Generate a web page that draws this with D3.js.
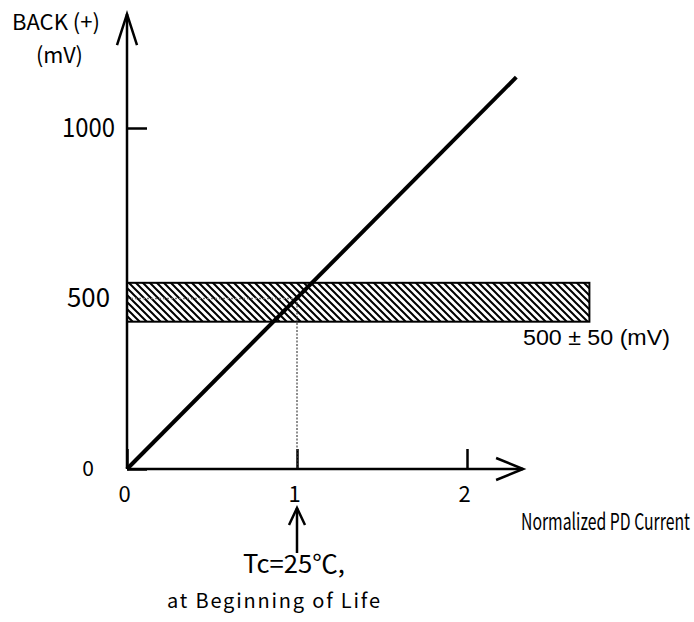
<!DOCTYPE html>
<html>
<head>
<meta charset="utf-8">
<script src="https://cdn.jsdelivr.net/npm/d3@7"></script>
<style>
  body { margin: 0; background: #fff; }
  .lbl { font-family: "Noto Sans CJK JP", sans-serif; fill: #000; }
</style>
</head>
<body>
<div id="chart"></div>
<script>
// values
var xTicks = [0, 1, 2];
var yTicks = [0, 500, 1000];
var lineX = [0, 2.29];          // normalized PD current
var lineY = [0, 1149];          // BACK(+) mV
var bandRange = [432, 546];     // 500 +/- 50 (mV) band as drawn
var bandEndX = 2.72;
var nominal = {x: 1, y: 500};
var axisMaxX = 2.33;
var axisMaxY = 1334;

var svgWidth = 694, svgHeight = 622;
var svg = d3.select("#chart").append("svg").attr("width", svgWidth).attr("height", svgHeight);

var x = d3.scaleLinear().domain([0, 2]).range([127, 467]);
var y = d3.scaleLinear().domain([0, 1000]).range([469, 128]);

// text squeezed/stretched horizontally to a given width (keeps glyph height)
function fitText(px, py, size, str, w, family) {
  var t = svg.append("text").attr("class", "lbl").attr("font-size", size).text(str);
  if (family) t.style("font-family", family);
  var n = t.node().getComputedTextLength();
  t.attr("transform", `translate(${px},${py}) scale(${w / n},1)`);
  return t;
}

// hatch pattern for the tolerance band
var defs = svg.append("defs");
var pat = defs.append("pattern").attr("id", "hatch")
  .attr("patternUnits", "userSpaceOnUse").attr("width", 7).attr("height", 7);
pat.append("rect").attr("width", 7).attr("height", 7).attr("fill", "#fff");
pat.append("path").attr("d", "M0,0L7,7M-1,6L1,8M6,-1L8,1")
  .attr("stroke", "#000").attr("stroke-width", 2);

// axes (ticks + labels)
var xAxis = d3.axisBottom(x).tickValues(xTicks).tickSize(-20).tickPadding(17).tickFormat(d3.format("d"));
var gx = svg.append("g").attr("transform", `translate(0,${y(0)})`).call(xAxis);
gx.select(".domain").remove();
gx.selectAll(".tick line").attr("stroke-width", 2.5).attr("stroke", "#000");
gx.selectAll(".tick text").attr("class", "lbl").attr("font-size", 22).attr("dx", -3);

var yAxis = d3.axisLeft(y).tickValues(yTicks).tickSize(-20).tickPadding(12).tickFormat(d3.format("d"));
var gy = svg.append("g").attr("transform", `translate(${x(0)},0)`).call(yAxis);
gy.select(".domain").remove();
gy.selectAll(".tick line").attr("stroke-width", 2.5).attr("stroke", "#000");
gy.selectAll(".tick text").attr("class", "lbl")
  .attr("font-size", d => d === 0 ? 21 : 26)
  .attr("dx", d => d === 0 ? -21 : d === 500 ? -5 : 0)
  .attr("textLength", d => d === 1000 ? 53 : d === 500 ? 43 : null)
  .attr("lengthAdjust", "spacingAndGlyphs");

// tolerance band
svg.append("rect")
  .attr("x", x(0)).attr("y", y(bandRange[1]))
  .attr("width", x(bandEndX) - x(0)).attr("height", y(bandRange[0]) - y(bandRange[1]))
  .attr("fill", "url(#hatch)").attr("stroke", "#000").attr("stroke-width", 2);

// dotted guides at nominal point
svg.append("line")
  .attr("x1", x(0)).attr("y1", y(nominal.y)).attr("x2", x(nominal.x)).attr("y2", y(nominal.y))
  .attr("stroke", "#777").attr("stroke-width", 1.3).attr("stroke-dasharray", "2,2");
svg.append("line")
  .attr("x1", x(nominal.x)).attr("y1", y(nominal.y)).attr("x2", x(nominal.x)).attr("y2", y(0))
  .attr("stroke", "#444").attr("stroke-width", 1.2).attr("stroke-dasharray", "2,1.5");

// axis lines with open arrow heads
svg.append("line").attr("x1", x(0)).attr("y1", y(0)).attr("x2", x(0)).attr("y2", y(axisMaxY))
  .attr("stroke", "#000").attr("stroke-width", 2.5);
svg.append("path")
  .attr("d", `M${x(0) - 10},${y(axisMaxY) + 31}L${x(0)},${y(axisMaxY)}L${x(0) + 10},${y(axisMaxY) + 31}`)
  .attr("fill", "none").attr("stroke", "#000").attr("stroke-width", 2.5);
svg.append("line").attr("x1", x(0)).attr("y1", y(0)).attr("x2", x(axisMaxX)).attr("y2", y(0))
  .attr("stroke", "#000").attr("stroke-width", 2.5);
svg.append("path")
  .attr("d", `M${x(axisMaxX) - 27},${y(0) - 11}L${x(axisMaxX)},${y(0)}L${x(axisMaxX) - 27},${y(0) + 11}`)
  .attr("fill", "none").attr("stroke", "#000").attr("stroke-width", 2.5);

// characteristic line
svg.append("path")
  .datum(d3.zip(lineX, lineY))
  .attr("d", d3.line().x(d => x(d[0])).y(d => y(d[1])))
  .attr("fill", "none").attr("stroke", "#000").attr("stroke-width", 4);

// up arrow marking the operating point
var ax = x(nominal.x);
svg.append("line").attr("x1", ax).attr("y1", 553).attr("x2", ax).attr("y2", 508)
  .attr("stroke", "#000").attr("stroke-width", 2.5);
svg.append("path").attr("d", `M${ax - 8},525L${ax},508L${ax + 8},525`)
  .attr("fill", "none").attr("stroke", "#000").attr("stroke-width", 2.5);

// texts
fitText(12, 30, 22, "BACK (+)", 88);
fitText(36, 63, 22, "(mV)", 47);
fitText(523, 345, 22, "500 \u00b1 50 (mV)", 147, "'Liberation Sans', Arial, sans-serif");
fitText(521, 530, 23, "Normalized PD Current", 169);
fitText(243, 573, 25, "Tc=25\u2103,", 102);
svg.append("text").attr("class", "lbl").attr("x", 167).attr("y", 608).attr("font-size", 20)
  .attr("textLength", 213).attr("lengthAdjust", "spacing").text("at Beginning of Life");
</script>
</body>
</html>
